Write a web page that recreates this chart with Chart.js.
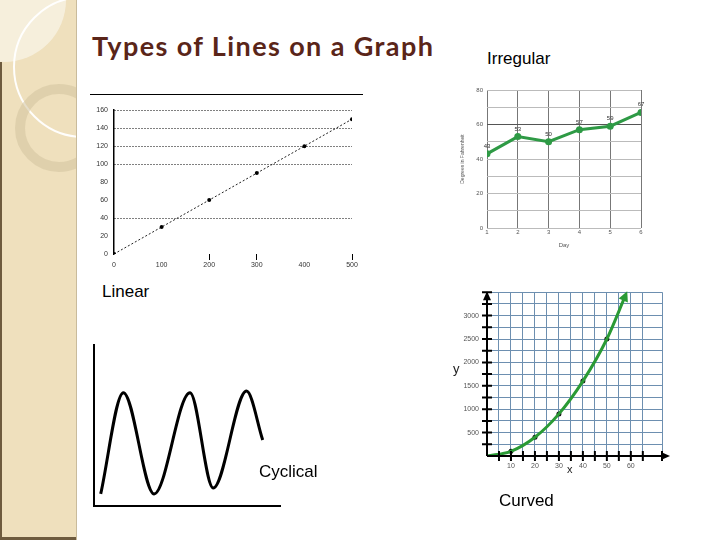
<!doctype html>
<html>

<head>
    <title>Types of Lines on a Graph</title>
    <script src="https://cdn.jsdelivr.net/npm/chart.js"></script>
    <style>
        body { margin: 0; background: #fff; font-family: "Liberation Sans", Arial, sans-serif; }
        #slide { position: relative; width: 720px; height: 540px; overflow: hidden; background: #fff; }
        .abs { position: absolute; }
        .lbl { position: absolute; font-size: 17px; line-height: 1; color: #000; white-space: nowrap; }
        #side { position: absolute; left: 0; top: 0; width: 77px; height: 540px; background: #efe0bd; overflow: hidden; }
        .ring { position: absolute; border-radius: 50%; box-sizing: border-box; }
        canvas { position: absolute; }
    </style>
</head>

<body>
<div id="slide">
    <div id="side">
        <div class="ring" style="left:-58px;top:-62px;width:124px;height:124px;background:rgba(250,245,233,0.7);"></div>
        <div class="ring" style="left:13px;top:-4px;width:142px;height:142px;border:2px solid rgba(255,255,255,0.95);"></div>
        <div class="ring" style="left:15px;top:84px;width:88px;height:88px;border:10px solid rgba(210,194,158,0.55);"></div>
        <div class="abs" style="left:0;top:62px;width:2px;height:478px;background:#6e5b3e;"></div>
        <div class="abs" style="left:0;top:537px;width:77px;height:3px;background:#6e5b3e;"></div>
        <div class="abs" style="left:76px;top:0;width:1px;height:540px;background:#c9bb9b;"></div>
    </div>

    <div class="abs" style="left:92px;top:32px;font-family:Lato, sans-serif;font-weight:700;font-size:27px;letter-spacing:1.4px;line-height:1;color:#5a2519;white-space:nowrap;">Types of Lines on a Graph</div>

    <div class="abs" style="left:90px;top:94px;width:273px;height:1px;background:#000;"></div>
    <canvas id="linear" width="280" height="174" style="left:90px;top:100px;"></canvas>
    <div class="lbl" style="left:102px;top:283px;">Linear</div>

    <canvas id="irregular" width="200" height="172" style="left:460px;top:78px;"></canvas>
    <div class="lbl" style="left:487px;top:50px;">Irregular</div>

    <canvas id="cyclical" width="200" height="172" style="left:85px;top:340px;"></canvas>
    <div class="lbl" style="left:259px;top:463px;">Cyclical</div>

    <canvas id="curved" width="235" height="200" style="left:440px;top:280px;"></canvas>
    <div class="abs" style="left:453px;top:362px;font-size:13px;line-height:1;color:#222;">y</div>
    <div class="abs" style="left:567px;top:464px;font-size:11px;line-height:1;color:#222;">x</div>
    <div class="lbl" style="left:499px;top:492px;">Curved</div>
</div>

<script>
    // ---- data ----
    var linearX = [0, 100, 200, 300, 400, 500];
    var linearY = [0, 30, 60, 90, 120, 150];
    var linearGridValues = [40, 100, 120, 140, 160];
    var linearTickMarks = [200, 300, 500];

    var irregularDays = [1, 2, 3, 4, 5, 6];
    var irregularTemps = [43, 53, 50, 57, 59, 67];

    var cycleX = [3.6, 15.8, 32.3, 51.6, 64.1, 82.0, 90.7];
    var cycleY = [7.5, 70.4, 7.5, 70.4, 11.2, 71.4, 41];

    var curveX = [0, 10, 20, 30, 40, 50, 57.5];
    var curveY = [0, 100, 400, 900, 1600, 2500, 3400];
    var curveDotX = [10, 20, 30, 40, 50];
    var curveDotY = [100, 400, 900, 1600, 2500];

    Chart.defaults.animation = false;
    Chart.defaults.responsive = false;
    Chart.defaults.devicePixelRatio = 1;
    Chart.defaults.font.family = '"Liberation Sans", Arial, sans-serif';
    Chart.defaults.plugins.legend.display = false;
    Chart.defaults.plugins.tooltip.enabled = false;

    function pairs(xs, ys) {
        return xs.map(function (x, i) { return { x: x, y: ys[i] }; });
    }

    // ---- Linear ----
    new Chart(document.getElementById('linear'), {
        type: 'scatter',
        data: {
            datasets: [{
                data: pairs(linearX, linearY),
                showLine: true,
                borderColor: '#222',
                borderWidth: 1,
                borderDash: [2, 2],
                pointRadius: 2,
                pointBackgroundColor: '#000',
                pointBorderWidth: 0
            }]
        },
        options: {
            layout: { padding: { top: 9, right: 18, left: 0, bottom: 0 } },
            scales: {
                x: {
                    type: 'linear', min: 0, max: 500,
                    afterFit: function (axis) { axis.height = 20; },
                    ticks: { stepSize: 100, font: { size: 7 }, color: '#333', padding: 1, maxRotation: 0 },
                    grid: {
                        drawOnChartArea: false, drawTicks: true, tickLength: 6,
                        tickColor: function (c) { return linearTickMarks.includes(c.tick && c.tick.value) ? '#000' : 'transparent'; }
                    },
                    border: { display: false }
                },
                y: {
                    min: 0, max: 160,
                    afterFit: function (axis) { axis.width = 24; },
                    ticks: { stepSize: 20, font: { size: 7 }, color: '#333', padding: 6 },
                    grid: {
                        drawTicks: false,
                        color: function (c) { return linearGridValues.includes(c.tick && c.tick.value) ? '#000' : 'transparent'; }
                    },
                    border: { display: true, color: '#000', width: 1.5, dash: [1, 2] }
                }
            }
        }
    });

    // ---- Irregular ----
    var pointLabels = {
        id: 'pointLabels',
        afterDatasetsDraw: function (chart) {
            var ctx = chart.ctx;
            var meta = chart.getDatasetMeta(0);
            ctx.save();
            ctx.font = '6px "Liberation Sans", Arial';
            ctx.fillStyle = '#333';
            ctx.textAlign = 'center';
            meta.data.forEach(function (pt, i) {
                ctx.fillText(irregularTemps[i], pt.x, pt.y - 6);
            });
            ctx.restore();
        }
    };

    new Chart(document.getElementById('irregular'), {
        type: 'scatter',
        data: {
            datasets: [{
                data: pairs(irregularDays, irregularTemps),
                showLine: true,
                borderColor: '#2e9a45',
                borderWidth: 3,
                pointRadius: 3.5,
                pointBackgroundColor: '#2e9a45',
                pointBorderWidth: 0
            }]
        },
        options: {
            layout: { padding: { top: 12, right: 19, left: 0, bottom: 0 } },
            scales: {
                x: {
                    type: 'linear', min: 1, max: 6,
                    afterFit: function (axis) { axis.height = 22; },
                    ticks: { stepSize: 1, font: { size: 6 }, color: '#555', padding: 1 },
                    title: { display: true, text: 'Day', font: { size: 6 }, color: '#555', padding: 1 },
                    grid: { color: '#777', drawTicks: false },
                    border: { display: false }
                },
                y: {
                    min: 0, max: 80,
                    afterFit: function (axis) { axis.width = 27; },
                    ticks: {
                        stepSize: 10, font: { size: 6 }, color: '#555', padding: 4,
                        callback: function (v) { return v % 20 === 0 ? v : ''; }
                    },
                    title: { display: true, text: 'Degrees in Fahrenheit', font: { size: 5 }, color: '#555', padding: { top: 0, bottom: 0 } },
                    grid: {
                        drawTicks: false,
                        color: function (c) { return c.tick && c.tick.value === 60 ? '#555' : '#bbb'; }
                    },
                    border: { display: false }
                }
            }
        },
        plugins: [pointLabels]
    });

    // ---- Cyclical ----
    new Chart(document.getElementById('cyclical'), {
        type: 'scatter',
        data: {
            datasets: [{
                data: pairs(cycleX, cycleY),
                showLine: true,
                borderColor: '#000',
                borderWidth: 3,
                pointRadius: 0,
                cubicInterpolationMode: 'monotone'
            }]
        },
        options: {
            layout: { padding: { top: 5, right: 5, left: 9, bottom: 6 } },
            scales: {
                x: {
                    type: 'linear', min: 0, max: 100,
                    afterFit: function (axis) { axis.height = 0; },
                    ticks: { display: false },
                    grid: { display: false },
                    border: { display: true, color: '#000', width: 2 }
                },
                y: {
                    min: 0, max: 100,
                    afterFit: function (axis) { axis.width = 0; },
                    ticks: { display: false },
                    grid: { display: false },
                    border: { display: true, color: '#000', width: 2 }
                }
            }
        }
    });

    // ---- Curved ----
    var axisArrows = {
        id: 'axisArrows',
        afterDraw: function (chart) {
            var ctx = chart.ctx;
            var a = chart.chartArea;
            var xs = chart.scales.x, ys = chart.scales.y;
            ctx.save();
            ctx.strokeStyle = '#000';
            ctx.fillStyle = '#000';
            ctx.lineWidth = 2;
            ctx.beginPath();
            ctx.moveTo(a.left, a.bottom);
            ctx.lineTo(a.right + 2, a.bottom);
            ctx.moveTo(a.left, a.bottom);
            ctx.lineTo(a.left, a.top);
            xs.ticks.forEach(function (t) {
                if (t.value <= 0) return;
                var px = xs.getPixelForValue(t.value);
                ctx.moveTo(px, a.bottom - 5);
                ctx.lineTo(px, a.bottom + 5);
            });
            ys.ticks.forEach(function (t) {
                if (t.value <= 0) return;
                var py = ys.getPixelForValue(t.value);
                ctx.moveTo(a.left - 5, py);
                ctx.lineTo(a.left + 5, py);
            });
            ctx.stroke();
            // axis arrowheads
            ctx.beginPath();
            ctx.moveTo(a.right + 8, a.bottom);
            ctx.lineTo(a.right - 1, a.bottom - 4);
            ctx.lineTo(a.right - 1, a.bottom + 4);
            ctx.closePath();
            ctx.moveTo(a.left, a.top - 1);
            ctx.lineTo(a.left - 4, a.top + 8);
            ctx.lineTo(a.left + 4, a.top + 8);
            ctx.closePath();
            ctx.fill();
            // arrowhead on the curve
            var meta = chart.getDatasetMeta(0);
            var last = meta.data[meta.data.length - 1];
            var prev = meta.data[meta.data.length - 2];
            var dx = last.x - (last.cp1x !== undefined ? last.cp1x : prev.x);
            var dy = last.y - (last.cp1y !== undefined ? last.cp1y : prev.y);
            var ang = Math.atan2(dy, dx);
            ctx.fillStyle = '#2a9a35';
            ctx.translate(last.x, last.y);
            ctx.rotate(ang);
            ctx.beginPath();
            ctx.moveTo(6, 0);
            ctx.lineTo(-4, -5);
            ctx.lineTo(-4, 5);
            ctx.closePath();
            ctx.fill();
            ctx.restore();
        }
    };

    new Chart(document.getElementById('curved'), {
        type: 'scatter',
        data: {
            datasets: [{
                data: pairs(curveX, curveY),
                showLine: true,
                borderColor: '#2a9a35',
                borderWidth: 3,
                pointRadius: 0,
                cubicInterpolationMode: 'monotone'
            }, {
                data: pairs(curveDotX, curveDotY),
                pointRadius: 2.5,
                pointBackgroundColor: '#111',
                pointBorderWidth: 0
            }]
        },
        options: {
            layout: { padding: { top: 7, right: 13, left: 0, bottom: 0 } },
            scales: {
                x: {
                    type: 'linear', min: 0, max: 73,
                    afterFit: function (axis) { axis.height = 24; },
                    ticks: {
                        stepSize: 5, font: { size: 7 }, color: '#555', padding: 6, maxRotation: 0, autoSkip: false,
                        callback: function (v) { return (v % 10 === 0 && v > 0 && v <= 60) ? v : ''; }
                    },
                    grid: { color: '#6d8fb0', drawTicks: false },
                    border: { display: false }
                },
                y: {
                    min: 0, max: 3500,
                    afterFit: function (axis) { axis.width = 47; },
                    ticks: {
                        stepSize: 250, font: { size: 7 }, color: '#555', padding: 8, autoSkip: false,
                        callback: function (v) { return (v % 500 === 0 && v > 0 && v <= 3000) ? v : ''; }
                    },
                    grid: { color: '#6d8fb0', drawTicks: false },
                    border: { display: false }
                }
            }
        },
        plugins: [axisArrows]
    });
</script>
</body>

</html>
